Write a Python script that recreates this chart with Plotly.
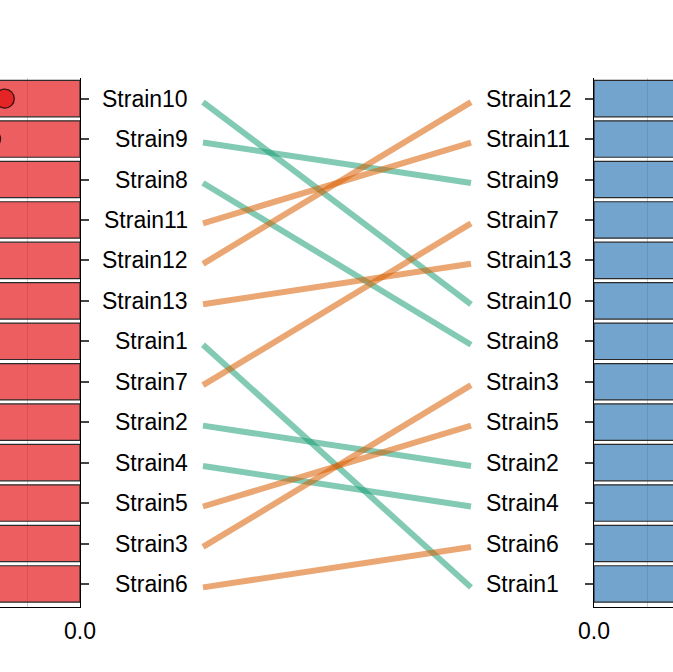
import plotly.graph_objects as go

# strain ranking, left panel (top to bottom) and right panel (top to bottom)
left_order = ["Strain10", "Strain9", "Strain8", "Strain11", "Strain12", "Strain13",
              "Strain1", "Strain7", "Strain2", "Strain4", "Strain5", "Strain3", "Strain6"]
right_order = ["Strain12", "Strain11", "Strain9", "Strain7", "Strain13", "Strain10",
               "Strain8", "Strain3", "Strain5", "Strain2", "Strain4", "Strain6", "Strain1"]

# bar values (bars run off the cropped view)
left_values = [0.92, 0.88, 0.85, 0.81, 0.78, 0.74, 0.70, 0.66, 0.62, 0.58, 0.55, 0.51, 0.47]
right_values = [0.95, 0.90, 0.86, 0.83, 0.79, 0.75, 0.71, 0.67, 0.63, 0.60, 0.56, 0.52, 0.48]

# individual points shown on the left panel
left_point_strains = ["Strain10", "Strain9"]
left_point_values = [0.142, 0.168]

red = "rgba(228,26,28,0.7)"
blue = "rgba(55,126,184,0.7)"
teal = "rgba(27,158,119,0.55)"
orange = "rgba(217,95,2,0.55)"
font = "Liberation Sans, Arial, sans-serif"

yr = [12.57, -0.51]
# connecting lines sit a touch lower than the labels
yr_lines = [12.57 - 0.085, -0.51 - 0.085]

fig = go.Figure()

fig.add_trace(go.Bar(
    x=left_values, y=left_order, orientation="h", width=0.9,
    marker=dict(color=red, line=dict(color="#2b2b2b", width=1.2)),
    xaxis="x", yaxis="y", showlegend=False
))
fig.add_trace(go.Scatter(
    x=left_point_values, y=left_point_strains, mode="markers",
    marker=dict(size=19, color="rgba(228,26,28,0.85)", line=dict(color="#3a1010", width=1.3)),
    xaxis="x", yaxis="y", showlegend=False
))
fig.add_trace(go.Bar(
    x=right_values, y=right_order, orientation="h", width=0.9,
    marker=dict(color=blue, line=dict(color="#2b2b2b", width=1.2)),
    xaxis="x3", yaxis="y3", showlegend=False
))

# connecting lines between ranks
for s in left_order:
    li = left_order.index(s)
    ri = right_order.index(s)
    col = teal if ri > li else orange
    fig.add_trace(go.Scatter(
        x=[0, 1], y=[li, ri], mode="lines",
        line=dict(color=col, width=6),
        xaxis="x2", yaxis="y2", showlegend=False, hoverinfo="skip"
    ))

annotations = []
for s in left_order:
    annotations.append(dict(x=-0.0597, y=s, xref="x2", yref="y", text=s, showarrow=False,
                            xanchor="right", yanchor="middle", xshift=3,
                            font=dict(size=23, color="black")))
for s in right_order:
    annotations.append(dict(x=1.0597, y=s, xref="x2", yref="y3", text=s, showarrow=False,
                            xanchor="left", yanchor="middle", xshift=-3,
                            font=dict(size=23, color="black")))

grid = dict(showgrid=True, gridcolor="#d0d0d0", gridwidth=1,
            minor=dict(dtick=0.1, showgrid=True, gridcolor="#d0d0d0", gridwidth=1),
            dtick=0.2, tick0=0, tickformat=".1f", ticks="", ticklabelstandoff=3,
            showline=True, linecolor="black", linewidth=1.3, zeroline=False,
            automargin=False, tickfont=dict(size=23, color="black"))

fig.update_layout(
    template="none",
    width=673, height=672,
    margin=dict(l=0, r=0, t=78, b=65, pad=0, autoexpand=False),
    paper_bgcolor="white", plot_bgcolor="white",
    font=dict(family=font, color="black"),
    bargap=0.1,
    annotations=annotations,
    xaxis=dict(domain=[0, 80 / 673], range=[0.151, 0], anchor="y", **grid),
    yaxis=dict(type="category", categoryorder="array", categoryarray=left_order,
               range=yr, side="right", anchor="x", showticklabels=False, automargin=False,
               ticks="outside", ticklen=8, tickwidth=1.5, tickcolor="#444",
               showline=True, linecolor="black", linewidth=1.3, showgrid=False, zeroline=False),
    xaxis2=dict(domain=[187 / 673, 487 / 673], range=[-0.0597, 1.0597], anchor="y2",
                visible=False, automargin=False),
    yaxis2=dict(range=yr_lines, anchor="x2", visible=False, automargin=False),
    xaxis3=dict(domain=[594 / 673, 1], range=[0, 0.149], anchor="y3", **grid),
    yaxis3=dict(type="category", categoryorder="array", categoryarray=right_order,
                range=yr, side="left", anchor="x3", showticklabels=False, automargin=False,
                ticks="outside", ticklen=8, tickwidth=1.5, tickcolor="#444",
                showline=True, linecolor="black", linewidth=1.3, showgrid=False, zeroline=False),
)

fig.write_html("out.html", config={"displayModeBar": False},
               post_script="document.body.style.margin='0';")
